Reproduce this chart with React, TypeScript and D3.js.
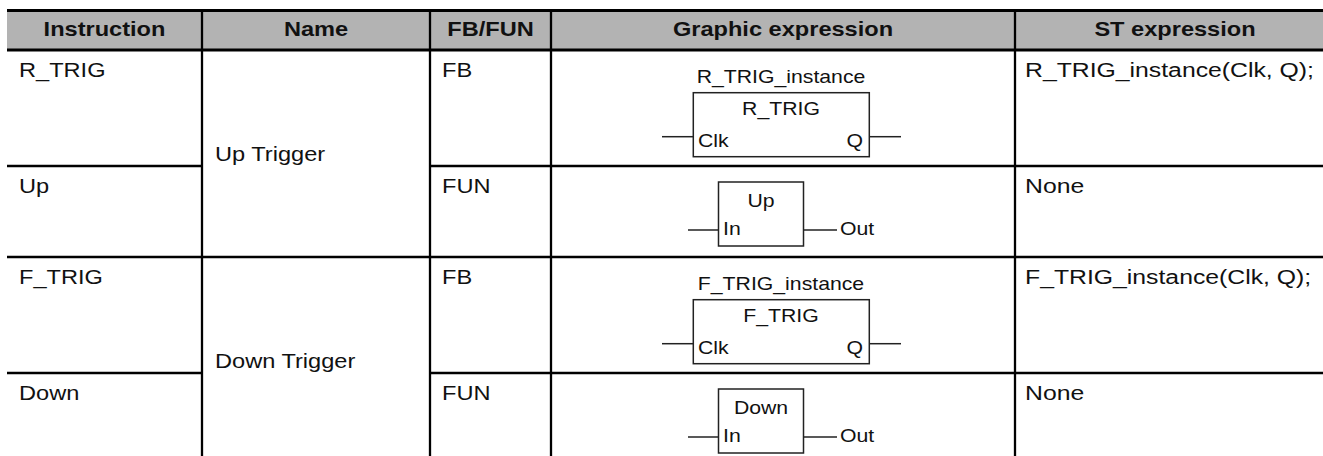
import React from "react";
import * as d3 from "d3";

const headers = ["Instruction", "Name", "FB/FUN", "Graphic expression", "ST expression"];
const instructions = ["R_TRIG", "Up", "F_TRIG", "Down"];
const groupNames = ["Up Trigger", "Down Trigger"];
const kinds = ["FB", "FUN", "FB", "FUN"];
const instanceLabels = ["R_TRIG_instance", "", "F_TRIG_instance", ""];
const boxNames = ["R_TRIG", "Up", "F_TRIG", "Down"];
const inPins = ["Clk", "In", "Clk", "In"];
const outPins = ["Q", "Out", "Q", "Out"];
const stExpr = ["R_TRIG_instance(Clk, Q);", "None", "F_TRIG_instance(Clk, Q);", "None"];

const W = 1323;
const H = 456;
const SX = 1.18;
const FONT = "'Liberation Sans', Arial, Helvetica, sans-serif";

function T({ x, y, anchor = "start", bold = false, size = 20, children }: any) {
  return (
    <text
      transform={`translate(${x},${y}) scale(${SX},1)`}
      textAnchor={anchor}
      fontWeight={bold ? "bold" : "normal"}
      fontSize={size}
      fontFamily={FONT}
      fill="#111"
    >
      {children}
    </text>
  );
}

export default function App() {
  const colWidths = [195, 228, 121, 464, 320];
  const colEdges = [7, ...Array.from(d3.cumsum(colWidths)).map((v) => v + 7)];
  const colX = (i: number) => colEdges[i];
  const headerTop = 10.5;
  const headerBottom = 50;
  const rowHeights = [116, 91, 116, 91];
  const rowEdges = [headerBottom, ...Array.from(d3.cumsum(rowHeights)).map((v) => v + headerBottom)];
  const rowY = d3.scaleOrdinal<number, number>().domain(d3.range(4)).range(rowEdges.slice(0, 4));

  const gx = 781; // graphic center
  const stroke = "#222";

  return (
    <svg
      width={W}
      height={H}
      style={{ position: "absolute", left: 0, top: 0, background: "#fff" }}
    >
      <rect x={0} y={0} width={W} height={H} fill="#fff" />
      {/* header */}
      <rect x={colX(0)} y={headerTop} width={colX(5) - colX(0)} height={headerBottom - headerTop} fill="#b3b3b3" />
      {headers.map((h, i) => (
        <T key={h} x={(colX(i) + colX(i + 1)) / 2} y={36} anchor="middle" bold>
          {h}
        </T>
      ))}
      <line x1={colX(0)} x2={colX(5)} y1={headerTop} y2={headerTop} stroke="#000" strokeWidth={3} />
      <line x1={colX(0)} x2={colX(5)} y1={headerBottom} y2={headerBottom} stroke="#000" strokeWidth={3} />

      {/* vertical dividers */}
      {[1, 2, 3, 4].map((i) => (
        <line key={i} x1={colX(i)} x2={colX(i)} y1={headerTop} y2={H + 20} stroke="#000" strokeWidth={2.3} />
      ))}

      {/* row lines */}
      {instructions.map((_, r) => {
        if (r === 0) return null;
        const y = rowY(r);
        const full = r % 2 === 0;
        return (
          <g key={r}>
            {full ? (
              <line x1={colX(0)} x2={colX(5)} y1={y} y2={y} stroke="#000" strokeWidth={2.4} />
            ) : (
              <>
                <line x1={colX(0)} x2={colX(1)} y1={y} y2={y} stroke="#000" strokeWidth={2.4} />
                <line x1={colX(2)} x2={colX(5)} y1={y} y2={y} stroke="#000" strokeWidth={2.4} />
              </>
            )}
          </g>
        );
      })}

      {/* group names */}
      {groupNames.map((g, k) => {
        const top = rowY(k * 2);
        const bottom = top + rowHeights[k * 2] + rowHeights[k * 2 + 1];
        return (
          <T key={g} x={colX(1) + 13} y={(top + bottom) / 2 + 7}>
            {g}
          </T>
        );
      })}

      {/* rows */}
      {instructions.map((ins, r) => {
        const top = rowY(r);
        const isFB = kinds[r] === "FB";
        return (
          <g key={ins}>
            <T x={colX(0) + 12} y={top + 26.5}>{ins}</T>
            <T x={colX(2) + 12} y={top + 26.5}>{kinds[r]}</T>
            <T x={colX(4) + 10} y={top + 26.5} size={21}>{stExpr[r]}</T>
            {isFB ? (
              <g>
                <T x={gx} y={top + 33.3} anchor="middle" size={18}>{instanceLabels[r]}</T>
                <rect x={693.3} y={top + 42.7} width={176} height={64} fill="none" stroke={stroke} strokeWidth={1.5} />
                <T x={gx} y={top + 65} anchor="middle" size={18}>{boxNames[r]}</T>
                <line x1={662} x2={693.3} y1={top + 86.7} y2={top + 86.7} stroke={stroke} strokeWidth={1.5} />
                <line x1={869.3} x2={901} y1={top + 86.7} y2={top + 86.7} stroke={stroke} strokeWidth={1.5} />
                <T x={698} y={top + 97.3} size={18}>{inPins[r]}</T>
                <T x={863} y={top + 97.3} anchor="end" size={18}>{outPins[r]}</T>
              </g>
            ) : (
              <g>
                <rect x={718.5} y={top + 16} width={85} height={64} fill="none" stroke={stroke} strokeWidth={1.5} />
                <T x={761} y={top + 40.7} anchor="middle" size={18}>{boxNames[r]}</T>
                <line x1={688} x2={718.5} y1={top + 64} y2={top + 64} stroke={stroke} strokeWidth={1.5} />
                <line x1={803.5} x2={837} y1={top + 64} y2={top + 64} stroke={stroke} strokeWidth={1.5} />
                <T x={723} y={top + 69.3} size={18}>{inPins[r]}</T>
                <T x={840} y={top + 69.3} size={18}>{outPins[r]}</T>
              </g>
            )}
          </g>
        );
      })}
    </svg>
  );
}
